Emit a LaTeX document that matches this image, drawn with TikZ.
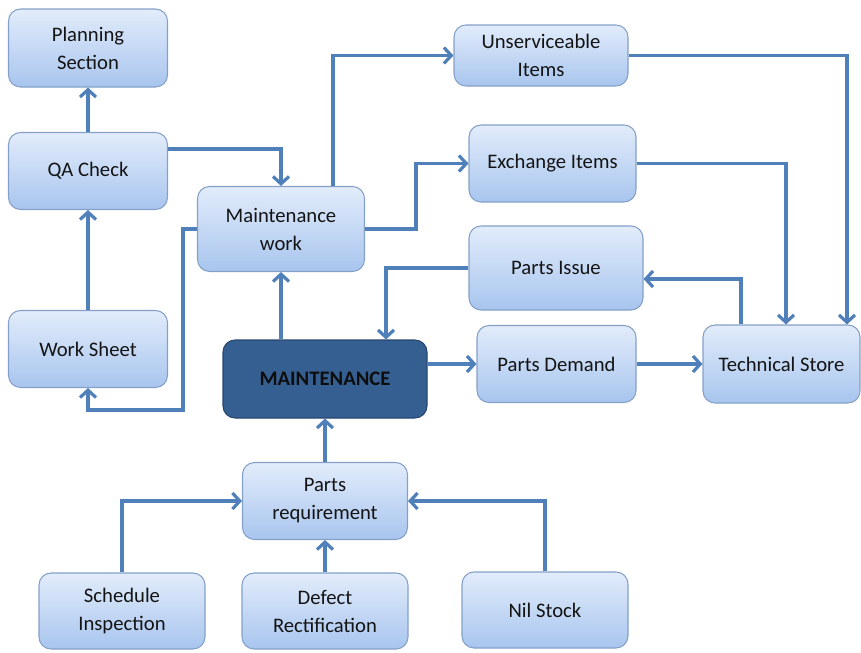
\documentclass[tikz,border=0pt]{standalone}
\usepackage{fontspec}
\setmainfont{Carlito}
\usetikzlibrary{arrows.meta}
\definecolor{boxtop}{RGB}{226,236,251}
\definecolor{boxbot}{RGB}{168,197,238}
\definecolor{boxline}{RGB}{132,160,200}
\definecolor{darkbox}{RGB}{54,95,145}
\definecolor{darkline}{RGB}{40,70,110}
\definecolor{linkcol}{RGB}{79,128,186}

\begin{document}
\begin{tikzpicture}[x=0.75pt,y=-0.75pt,
		sz/.style 2 args={minimum width=#1*0.75pt,minimum height=#2*0.75pt},
		blk/.style={draw=boxline,line width=0.8pt,rounded corners=9pt,top color=boxtop,bottom color=boxbot,
			align=center,inner sep=0pt,text=black!92,font=\fontsize{15.5}{21}\selectfont},
		mainblk/.style={draw=darkline,line width=0.8pt,rounded corners=9pt,fill=darkbox,
			align=center,inner sep=0pt,text=black!95,font=\fontsize{15.5}{21}\selectfont\bfseries},
		arr/.style={draw=linkcol,line width=2.4pt,-{Straight Barb[length=5.5pt,width=12pt]}}
	]
	\useasboundingbox (0,0) rectangle (861,653);
	\node[blk,sz={159}{78}] (plan) at (88,48) {Planning\\Section};
	\node[blk,sz={159}{77}] (qa) at (88,171) {QA Check};
	\node[blk,sz={159}{77}] (ws) at (88,349) {Work Sheet};
	\node[blk,sz={167}{85}] (mw) at (281,229) {Maintenance\\work};
	\node[blk,sz={174}{61}] (unsv) at (541,55.5) {Unserviceable\\Items};
	\node[blk,sz={167}{77}] (exch) at (552.5,163.5) {Exchange Items};
	\node[blk,sz={174}{84}] (issue) at (556,268) {Parts Issue};
	\node[mainblk,sz={204}{78}] (maint) at (325,379) {MAINTENANCE};
	\node[blk,sz={159}{77}] (demand) at (556.5,364) {Parts Demand};
	\node[blk,sz={157}{78}] (store) at (781.5,364) {Technical Store};
	\node[blk,sz={165}{77}] (preq) at (325,501) {Parts\\requirement};
	\node[blk,sz={166}{76}] (sched) at (122,611) {Schedule\\Inspection};
	\node[blk,sz={166}{76}] (defect) at (325,611) {Defect\\Rectification};
	\node[blk,sz={166}{76}] (nil) at (545,610) {Nil Stock};

	\draw[arr] (qa.north) -- (plan.south);
	\draw[arr] (ws.north) -- (qa.south);
	\draw[arr] (mw.west) -| (183,410) -| (ws.south);
	\draw[arr] (qa.east |- 0,149) -| (mw.north);
	\draw[arr] (maint.north -| mw.south) -- (mw.south);
	\draw[arr] (mw.north -| 333,0) |- (unsv.west);
	\draw[arr] (mw.east) -- (416,229) |- (exch.west);
	\draw[arr] (unsv.east) -| (store.north -| 847,0);
	\draw[arr] (exch.east) -| (store.north -| 786,0);
	\draw[arr] (store.north -| 741,0) |- (issue.east |- 0,279);
	\draw[arr] (issue.west) -| (maint.north -| 386,0);
	\draw[arr] (maint.east |- demand.west) -- (demand.west);
	\draw[arr] (demand.east) -- (store.west);
	\draw[arr] (preq.north) -- (maint.south);
	\draw[arr] (sched.north) |- (preq.west);
	\draw[arr] (defect.north) -- (preq.south);
	\draw[arr] (nil.north) |- (preq.east);
\end{tikzpicture}
\end{document}
